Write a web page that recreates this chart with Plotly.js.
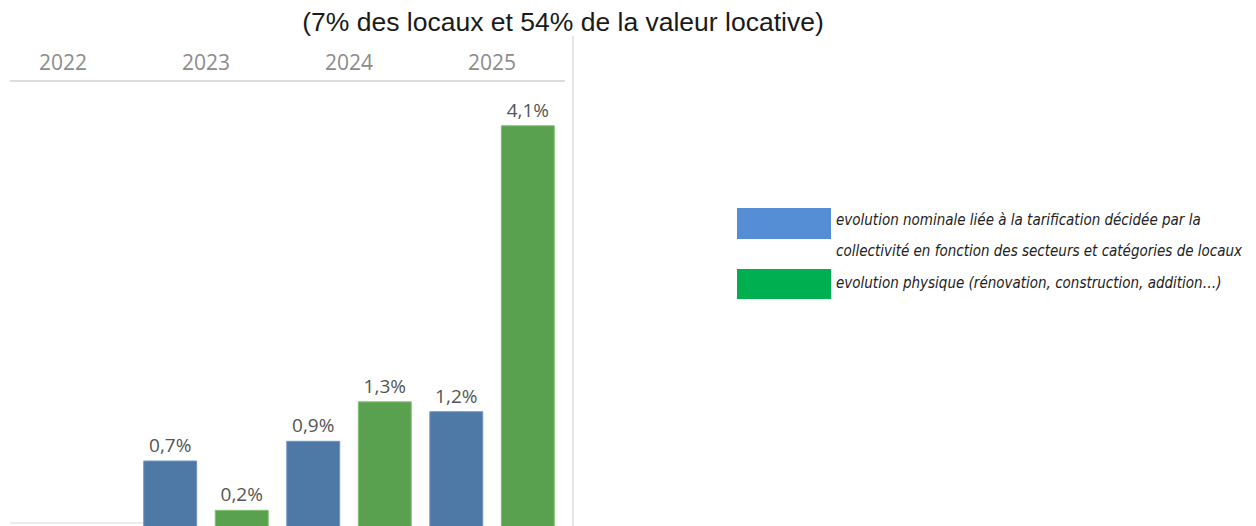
<!DOCTYPE html>
<html>
<head>
<meta charset="utf-8">
<script src="https://cdn.plot.ly/plotly-3.0.1.min.js"></script>
<style>html,body{margin:0;padding:0;background:#fff;}#chart{width:1256px;height:526px;}</style>
</head>
<body>
<div id="chart"></div>
<script>
const years = ["2022", "2023", "2024", "2025"];
const nominal = [null, 0.7, 0.9, 1.2];
const physique = [null, 0.2, 1.3, 4.1];
const seriesNames = ["evolution nominale", "evolution physique"];
const legendLines = [
  "evolution nominale liée à la tarification décidée par la",
  "collectivité en fonction des secteurs et catégories de locaux",
  "evolution physique (rénovation, construction, addition…)"
];
const titleText = "(7% des locaux et 54% de la valeur locative)";

const W = 1256, H = 526;
const px = v => v / W;
const py = v => 1 - v / H;

const labelFont = {family: "Open Sans, sans-serif", size: 19, color: "#555555"};

const traces = [
  {type: "bar", name: seriesNames[0], x: years, y: nominal,
   marker: {color: "#4e79a7", line: {color: "#6d95c4", width: 1}},
   texttemplate: "%{y:.1f}%", textposition: "outside", textfont: labelFont,
   constraintext: "none", cliponaxis: false, hoverinfo: "x+y"},
  {type: "bar", name: seriesNames[1], x: years, y: physique,
   marker: {color: "#59a14f", line: {color: "#7cc070", width: 1}},
   texttemplate: "%{y:.1f}%", textposition: "outside", textfont: labelFont,
   constraintext: "none", cliponaxis: false, hoverinfo: "x+y"}
];

const legFont = {family: "Liberation Sans Narrow, DejaVu Sans Condensed, sans-serif", size: 15, color: "#222222"};
const legY = [220, 251, 283];

const layout = {
  width: W, height: H,
  margin: {l: 0, r: 0, t: 0, b: 0},
  paper_bgcolor: "#ffffff", plot_bgcolor: "#ffffff",
  separators: ", ",
  showlegend: false,
  barmode: "group", bargap: 0, bargroupgap: 0.26,
  title: {text: titleText, x: px(563), y: py(22), xref: "paper", yref: "paper",
          xanchor: "center", yanchor: "middle",
          font: {family: "Liberation Sans, Arial, sans-serif", size: 26.5, color: "#1a1a1a"}},
  xaxis: {type: "category", domain: [px(10), px(565)], range: [-0.37, 3.51], side: "top",
          showline: true, linecolor: "#dcdcdc", linewidth: 2, mirror: false,
          showgrid: false, zeroline: false, ticks: "", ticklabelstandoff: 2,
          tickfont: {family: "Open Sans, sans-serif", size: 21, color: "#8c8c8c"},
          fixedrange: true},
  yaxis: {domain: [0, py(82)], range: [0.041, 4.544], visible: false, fixedrange: true},
  shapes: [
    {type: "line", xref: "paper", yref: "paper", x0: px(573), x1: px(573), y0: 0, y1: py(36),
     line: {color: "#e6e6e6", width: 2}},
    {type: "line", xref: "paper", yref: "paper", x0: px(10), x1: px(143), y0: py(523), y1: py(523),
     line: {color: "#e6e6e6", width: 1.5}},
    {type: "rect", xref: "paper", yref: "paper", x0: px(737), x1: px(831), y0: py(239), y1: py(208),
     fillcolor: "#558ed5", line: {width: 0}},
    {type: "rect", xref: "paper", yref: "paper", x0: px(737), x1: px(831), y0: py(299), y1: py(269),
     fillcolor: "#00b050", line: {width: 0}}
  ],
  annotations: legendLines.map((t, i) => ({
    text: "<i>" + t + "</i>", xref: "paper", yref: "paper",
    x: px(834), y: py(legY[i]), xanchor: "left", yanchor: "middle",
    showarrow: false, font: legFont, align: "left"
  }))
};

Plotly.newPlot("chart", traces, layout, {displayModeBar: false, staticPlot: true});
</script>
</body>
</html>
